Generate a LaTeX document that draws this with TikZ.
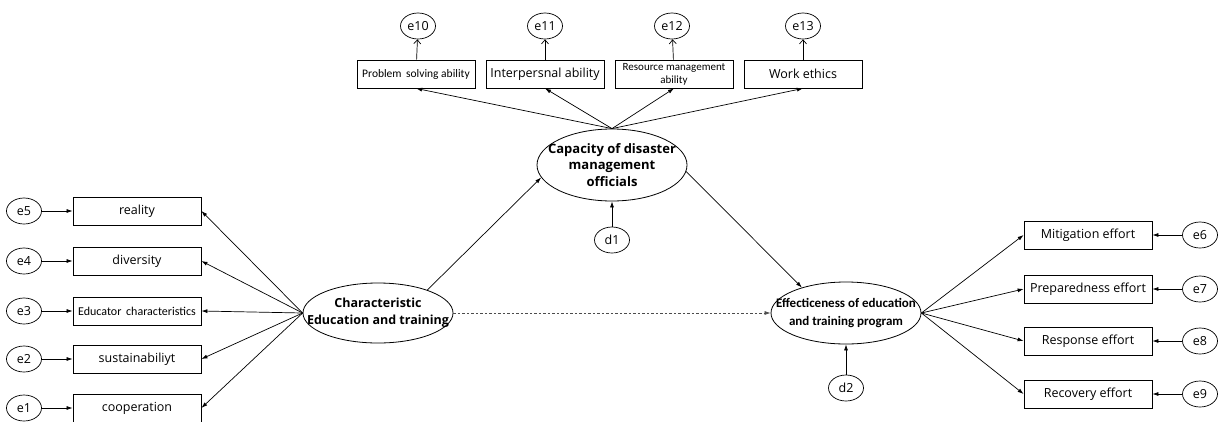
\documentclass[tikz,border=0pt]{standalone}
\usepackage{fontspec}
\setmainfont{Open Sans}
\newfontfamily\narrowfont{Carlito}
\usetikzlibrary{shapes.geometric,arrows.meta}

\begin{document}
\begin{tikzpicture}[x=1pt,y=-1pt,
  box/.style={draw,line width=0.8pt,minimum width=128pt,minimum height=28pt,inner sep=1pt,font=\fontsize{12.5}{14}\selectfont},
  topbox/.style={box,minimum width=118pt},
  err/.style={draw,ellipse,line width=0.7pt,minimum width=35pt,minimum height=26pt,inner sep=0pt,font=\fontsize{12.5}{14}\selectfont},
  latent/.style={draw,ellipse,line width=0.8pt,minimum width=150pt,inner xsep=-20pt,inner ysep=-8pt,align=center},
  path/.style={line width=0.7pt,-{Latex[length=6pt,width=4pt]}},
  res/.style={line width=0.7pt,-{Straight Barb[length=4pt,width=7pt]}}]
\definecolor{color1}{rgb}{0.3,0.3,0.3}
\useasboundingbox (0,0) rectangle (1226,421);
\node[latent,minimum height=72pt,font=\bfseries\fontsize{13}{16.5}\selectfont] (cap) at (612,165) {Capacity of disaster\\management\\officials};
\node[latent,minimum height=60pt,font=\bfseries\fontsize{12.5}{17}\selectfont] (char) at (378,313) {Characteristic\\Education and training};
\node[latent,minimum height=62pt,font=\narrowfont\bfseries\fontsize{13}{18}\selectfont] (eff) at (846,313) {Effecticeness of education\\and training program};
\node[err] (d1) at (612,240) {d1};
\node[err] (d2) at (846,388) {d2};
\node[box] (v5) at (137,211) {reality};
\node[box] (v4) at (137,261) {diversity};
\node[box,font=\narrowfont\fontsize{12}{13}\selectfont] (v3) at (137,311) {Educator\, characteristics};
\node[box] (v2) at (137,359) {sustainabiliyt};
\node[box] (v1) at (137,408) {cooperation};
\node[err] (e5) at (24,211) {e5};
\node[err] (e4) at (24,261) {e4};
\node[err] (e3) at (24,311) {e3};
\node[err] (e2) at (24,359) {e2};
\node[err] (e1) at (24,408) {e1};
\node[box] (v6) at (1088,235) {Mitigation effort};
\node[box] (v7) at (1088,289) {Preparedness effort};
\node[box] (v8) at (1088,341) {Response effort};
\node[box] (v9) at (1088,394) {Recovery effort};
\node[err] (e6) at (1200,235) {e6};
\node[err] (e7) at (1200,289) {e7};
\node[err] (e8) at (1200,341) {e8};
\node[err] (e9) at (1200,394) {e9};
\node[topbox,font=\narrowfont\fontsize{11.5}{12}\selectfont] (v10) at (416,74) {Problem\, solving ability};
\node[topbox] (v11) at (545,74) {Interpersnal ability};
\node[topbox,align=center,font=\narrowfont\fontsize{11}{13}\selectfont] (v12) at (674,74) {Resource management\\ability};
\node[topbox] (v13) at (803,74) {Work ethics};
\node[err] (e10) at (418,26) {e10};
\node[err] (e11) at (545,26) {e11};
\node[err] (e12) at (672,26) {e12};
\node[err] (e13) at (803,26) {e13};
\foreach \i in {1,...,9} \draw[path] (e\i) -- (v\i);
\foreach \i in {10,...,13} \draw[res] (v\i) -- (e\i);
\foreach \i in {1,...,5} \draw[path] (char.west) -- (v\i.east);
\foreach \i in {6,...,9} \draw[path] (eff.east) -- (v\i.west);
\foreach \i in {10,...,13} \draw[path] (cap.north) -- (v\i.south);
\draw[path] (d1) -- (cap);
\draw[path] (d2) -- (eff);
\draw[path] (char.25) -- (cap.190);
\draw[path] (cap.-5) -- (eff.150);
\draw[path,color1,dash pattern=on 2.5pt off 2pt] (char.east) -- (eff.west);
\end{tikzpicture}
\end{document}
